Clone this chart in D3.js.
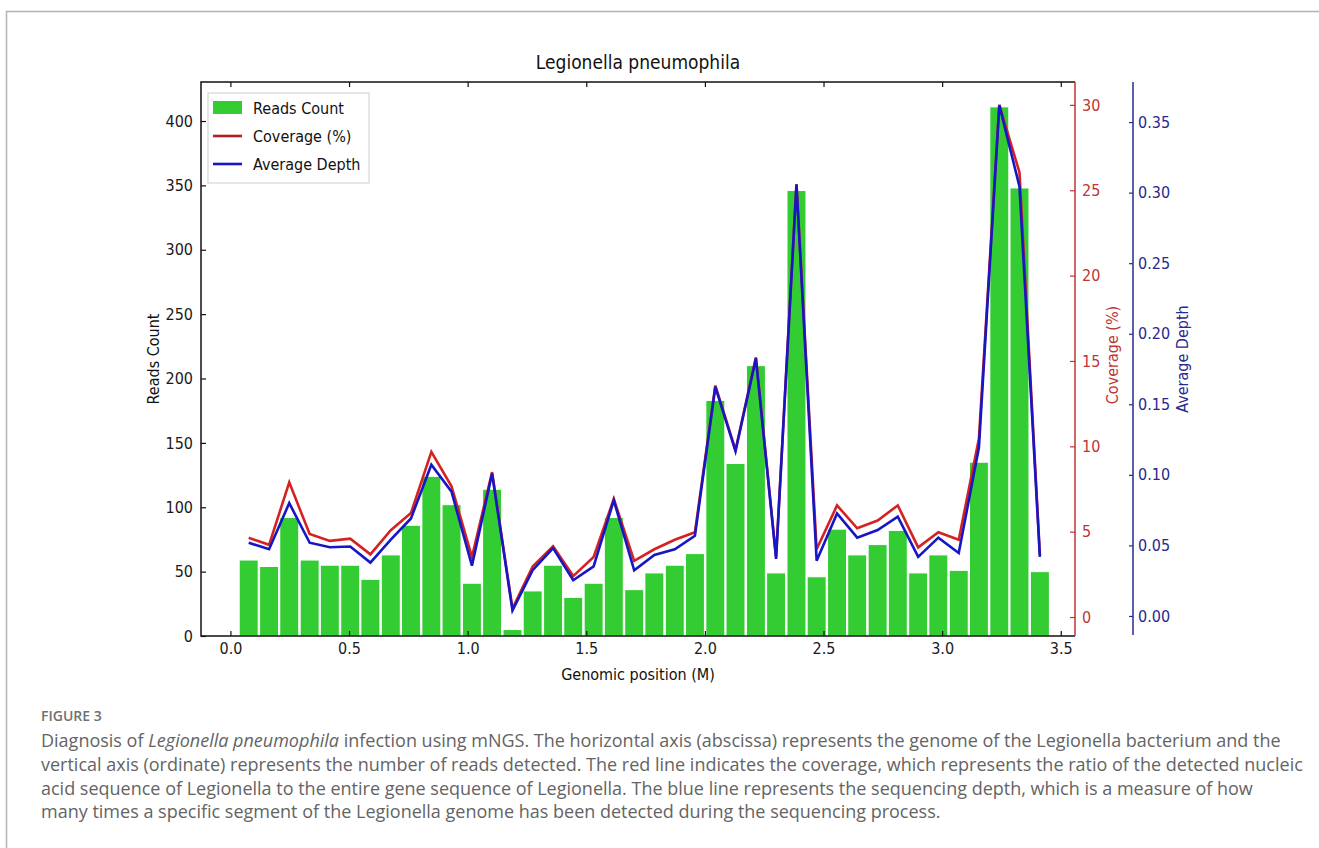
<!DOCTYPE html>
<html>
<head>
<meta charset="utf-8">
<script src="https://cdn.jsdelivr.net/npm/d3@7"></script>
<style>
  body { margin: 0; background: #fff; }
  #chart { width: 1319px; height: 848px; position: relative; }
  .axis text { font-family: "DejaVu Sans Condensed", "DejaVu Sans", sans-serif; font-size: 16px; }
</style>
</head>
<body>
<div id="chart"></div>
<script>
// defining data
const binCenters = [0.077, 0.163, 0.248, 0.334, 0.419, 0.505, 0.590, 0.676, 0.761, 0.847,
  0.932, 1.018, 1.103, 1.189, 1.274, 1.360, 1.445, 1.531, 1.616, 1.702,
  1.787, 1.873, 1.958, 2.044, 2.129, 2.215, 2.300, 2.386, 2.471, 2.557,
  2.642, 2.728, 2.813, 2.899, 2.984, 3.070, 3.155, 3.241, 3.326, 3.412];
const readsCount = [59, 54, 92, 59, 55, 55, 44, 63, 86, 124,
  102, 41, 114, 5, 35, 55, 30, 41, 92, 36,
  49, 55, 64, 183, 134, 210, 49, 346, 46, 83,
  63, 71, 82, 49, 63, 51, 135, 411, 348, 50];
const coverage = [4.64, 4.23, 7.89, 4.86, 4.46, 4.59, 3.67, 5.09, 6.09, 9.68,
  7.66, 3.52, 8.49, 0.49, 2.96, 4.15, 2.40, 3.52, 6.92, 3.29,
  3.97, 4.53, 4.97, 13.56, 9.79, 15.21, 3.52, 25.36, 3.97, 6.54,
  5.20, 5.65, 6.54, 4.08, 4.97, 4.53, 10.46, 30.0, 26.04, 3.63];
const avgDepth = [0.0519, 0.0473, 0.0800, 0.0519, 0.0487, 0.0492, 0.0378, 0.0541, 0.0691, 0.1072,
  0.0881, 0.0356, 0.1009, 0.0038, 0.0324, 0.0481, 0.0253, 0.0351, 0.0819, 0.0324,
  0.0432, 0.0473, 0.0568, 0.1624, 0.1167, 0.1825, 0.0405, 0.3057, 0.0392, 0.0726,
  0.0555, 0.0609, 0.0704, 0.0419, 0.0555, 0.0446, 0.1194, 0.3620, 0.3043, 0.0419];

// tick values
const xTicks = [0, 0.5, 1.0, 1.5, 2.0, 2.5, 3.0, 3.5];
const readsTicks = [0, 50, 100, 150, 200, 250, 300, 350, 400];
const coverageTicks = [0, 5, 10, 15, 20, 25, 30];
const depthTicks = [0, 0.05, 0.10, 0.15, 0.20, 0.25, 0.30, 0.35];

// caption lines (italic parts wrapped in an array)
const captionLines = [
  ['Diagnosis of ', ['Legionella pneumophila'], ' infection using mNGS. The horizontal axis (abscissa) represents the genome of the Legionella bacterium and the'],
  ['vertical axis (ordinate) represents the number of reads detected. The red line indicates the coverage, which represents the ratio of the detected nucleic'],
  ['acid sequence of Legionella to the entire gene sequence of Legionella. The blue line represents the sequencing depth, which is a measure of how'],
  ['many times a specific segment of the Legionella genome has been detected during the sequencing process.']
];

// colours
const green = '#33cc33';
const red = '#d42222';
const blue = '#1616c4';
const redAxis = '#bf3535';
const blueAxis = '#28288e';

function ComboChart(_) {
  function exports() {
    const root = _;
    const margin = {t: 82, l: 201};
    const w = 1075 - 201;
    const h = 636 - 82;

    const svg = d3.select(root).append('svg')
      .attr('width', 1319)
      .attr('height', 848);

    // page frame
    svg.append('path')
      .attr('d', 'M6.5,848 L6.5,11.5 L1319,11.5')
      .attr('fill', 'none')
      .attr('stroke', '#b4b4b4')
      .attr('stroke-width', 1.5);

    const plot = svg.append('g')
      .attr('transform', `translate(${margin.l},${margin.t})`);

    // setting up scales
    const scaleX = d3.scaleLinear().domain([-0.124, 3.56]).range([0, w]);
    const scaleY = d3.scaleLinear().domain([0, 430.3]).range([h, 0]);
    const scaleCov = d3.scaleLinear().domain([-1.11, 31.34]).range([h, 0]);
    const scaleDepth = d3.scaleLinear().domain([-0.0142, 0.3784]).range([h, 0]);

    const data = binCenters.map((c, i) => ({x: c, reads: readsCount[i], cov: coverage[i], depth: avgDepth[i]}));

    // bars
    const barW = 0.08;
    plot.selectAll('.bar')
      .data(data)
      .enter()
      .append('rect')
      .attr('class', 'bar')
      .attr('x', d => scaleX(d.x - barW / 2))
      .attr('width', d => scaleX(d.x + barW / 2) - scaleX(d.x - barW / 2))
      .attr('y', d => scaleY(d.reads))
      .attr('height', d => scaleY(0) - scaleY(d.reads))
      .attr('fill', green)
      .attr('stroke', '#fff')
      .attr('stroke-width', 1);

    // lines
    const lineCov = d3.line().x(d => scaleX(d.x)).y(d => scaleCov(d.cov));
    const lineDepth = d3.line().x(d => scaleX(d.x)).y(d => scaleDepth(d.depth));
    plot.append('path')
      .datum(data)
      .attr('d', lineCov)
      .attr('fill', 'none')
      .attr('stroke', red)
      .attr('stroke-width', 2.6);
    plot.append('path')
      .datum(data)
      .attr('d', lineDepth)
      .attr('fill', 'none')
      .attr('stroke', blue)
      .attr('stroke-width', 2.6);

    // axes (ticks pointing inward)
    const axisXBottom = d3.axisBottom(scaleX).tickValues(xTicks).tickSize(-5).tickPadding(7).tickFormat(d3.format('.1f'));
    const axisXTop = d3.axisTop(scaleX).tickValues(xTicks).tickSize(-5).tickFormat('');
    const axisY = d3.axisLeft(scaleY).tickValues(readsTicks).tickSize(-5).tickPadding(8);
    const axisCov = d3.axisRight(scaleCov).tickValues(coverageTicks).tickSize(-5).tickPadding(7);
    const axisDepth = d3.axisRight(scaleDepth).tickValues(depthTicks).tickSize(-4).tickPadding(5).tickFormat(d3.format('.2f'));

    const gx = plot.append('g').attr('class', 'axis').attr('transform', `translate(0,${h})`).call(axisXBottom);
    const gxt = plot.append('g').attr('class', 'axis').call(axisXTop);
    const gy = plot.append('g').attr('class', 'axis').call(axisY);
    const gc = plot.append('g').attr('class', 'axis').attr('transform', `translate(${w},0)`).call(axisCov);
    const gd = plot.append('g').attr('class', 'axis').attr('transform', `translate(${1133 - 201},0)`).call(axisDepth);

    [gx, gxt, gy, gc, gd].forEach(g => g.select('.domain').remove());
    [gx, gxt, gy].forEach(g => {
      g.selectAll('line').attr('stroke', '#111').attr('stroke-width', 1.2);
      g.selectAll('text').attr('fill', '#1a1a1a');
    });
    gc.selectAll('line').attr('stroke', redAxis).attr('stroke-width', 1.2);
    gc.selectAll('text').attr('fill', redAxis);
    gd.selectAll('line').attr('stroke', blueAxis).attr('stroke-width', 1.2);
    gd.selectAll('text').attr('fill', blueAxis);

    // spines
    plot.append('path')
      .attr('d', `M${w},0 L0,0 L0,${h} L${w},${h}`)
      .attr('fill', 'none').attr('stroke', '#111').attr('stroke-width', 1.5);
    plot.append('line')
      .attr('x1', w).attr('x2', w).attr('y1', 0).attr('y2', h)
      .attr('stroke', redAxis).attr('stroke-width', 1.5);
    plot.append('line')
      .attr('x1', 1133 - 201).attr('x2', 1133 - 201).attr('y1', 0).attr('y2', h - 1)
      .attr('stroke', blueAxis).attr('stroke-width', 1.5);

    // titles and axis labels
    const font = '"DejaVu Sans Condensed", "DejaVu Sans", sans-serif';
    svg.append('text')
      .attr('x', margin.l + w / 2).attr('y', 69)
      .attr('text-anchor', 'middle')
      .attr('font-family', font).attr('font-size', 19).attr('fill', '#111')
      .text('Legionella pneumophila');
    svg.append('text')
      .attr('x', margin.l + w / 2).attr('y', 680)
      .attr('text-anchor', 'middle')
      .attr('font-family', font).attr('font-size', 16).attr('fill', '#111')
      .text('Genomic position (M)');
    svg.append('text')
      .attr('transform', `translate(159,${margin.t + h / 2}) rotate(-90)`)
      .attr('text-anchor', 'middle')
      .attr('font-family', font).attr('font-size', 16).attr('fill', '#111')
      .text('Reads Count');
    svg.append('text')
      .attr('transform', `translate(1118,${margin.t + h / 2 - 4}) rotate(-90)`)
      .attr('text-anchor', 'middle')
      .attr('font-family', font).attr('font-size', 16).attr('fill', redAxis)
      .text('Coverage (%)');
    svg.append('text')
      .attr('transform', `translate(1188,${margin.t + h / 2}) rotate(-90)`)
      .attr('text-anchor', 'middle')
      .attr('font-family', font).attr('font-size', 16).attr('fill', blueAxis)
      .text('Average Depth');

    // legend
    const legend = svg.append('g').attr('transform', 'translate(208,93)');
    legend.append('rect')
      .attr('width', 161).attr('height', 90)
      .attr('fill', '#fff').attr('stroke', '#d6d6d6').attr('stroke-width', 1.2);
    const items = [
      {label: 'Reads Count', type: 'patch', color: green},
      {label: 'Coverage (%)', type: 'line', color: '#b02020'},
      {label: 'Average Depth', type: 'line', color: blue}
    ];
    const item = legend.selectAll('.item')
      .data(items)
      .enter()
      .append('g')
      .attr('transform', (d, i) => `translate(0,${15 + i * 28})`);
    item.filter(d => d.type === 'patch').append('rect')
      .attr('x', 5).attr('y', -7).attr('width', 29).attr('height', 13)
      .attr('fill', d => d.color);
    item.filter(d => d.type === 'line').append('line')
      .attr('x1', 5).attr('x2', 34).attr('y1', 0).attr('y2', 0)
      .attr('stroke', d => d.color).attr('stroke-width', 2.6);
    item.append('text')
      .attr('x', 45).attr('y', 0).attr('dy', '0.35em')
      .attr('font-family', font).attr('font-size', 16).attr('fill', '#111')
      .text(d => d.label);

    // caption
    const cap = svg.append('g');
    cap.append('text')
      .attr('x', 41).attr('y', 721)
      .attr('font-family', '"Open Sans", sans-serif').attr('font-size', 14).attr('font-weight', 600)
      .attr('fill', '#707070')
      .text('FIGURE 3');
    captionLines.forEach((parts, i) => {
      const t = cap.append('text')
        .attr('x', 41).attr('y', 747 + i * 23.8)
        .attr('font-family', '"Open Sans", sans-serif').attr('font-size', 18)
        .attr('fill', '#646464');
      parts.forEach(p => {
        const italic = Array.isArray(p);
        t.append('tspan')
          .attr('font-style', italic ? 'italic' : 'normal')
          .text(italic ? p[0] : p);
      });
    });
  }
  return exports;
}

const chart = ComboChart(document.getElementById('chart'));
chart();
</script>
</body>
</html>
